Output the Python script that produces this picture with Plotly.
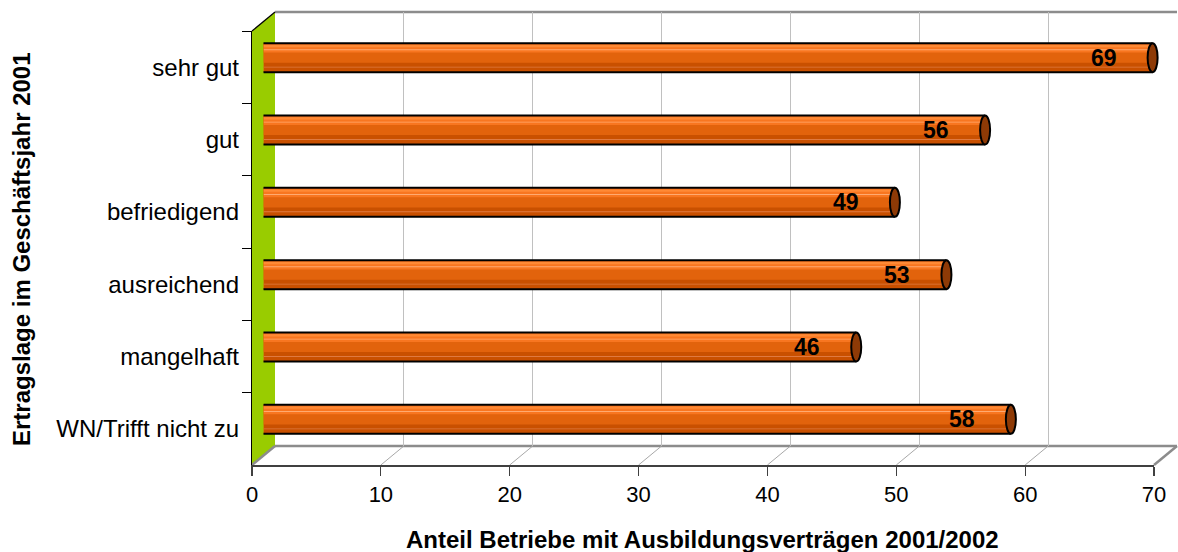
import plotly.graph_objects as go

# ---------------- data ----------------
categories = ["sehr gut", "gut", "befriedigend", "ausreichend", "mangelhaft", "WN/Trifft nicht zu"]
values = [69, 56, 49, 53, 46, 58]
x_ticks = [0, 10, 20, 30, 40, 50, 60, 70]
x_title = "Anteil Betriebe mit Ausbildungsverträgen 2001/2002"
y_title = "Ertragslage im Geschäftsjahr 2001"

# ---------------- geometry (pixels) ----------------
W, H = 1178, 552
FX0, FX1 = 252, 1154        # front plane x for 0 and 70
FYT, FYB = 31, 465          # front plane y top / bottom
DX, DY = 23, -19            # depth offset of back plane
XMAX = 70


def px(x):
    return x / W


def py(y):
    return 1 - y / H


FONT = "Arial, Liberation Sans, sans-serif"
scale = (FX1 - FX0) / XMAX  # pixels per unit

fig = go.Figure()

# back plane (grid only)
fig.add_trace(go.Scatter(x=[], y=[], xaxis="x", yaxis="y", showlegend=False, hoverinfo="skip"))

# bars on the mid plane
pos = list(range(len(categories)))
layers = [
    (-0.20, 0.40, "#C95000"),
    (-0.20, 0.27, "#E2630C"),
    (-0.20, 0.13, "#F87620"),
    (-0.175, 0.03, "#FF8A35"),
    (-0.115, 0.012, "#FFAA70"),
    (0.125, 0.012, "#E07A40"),
]
for off, wdt, col in layers:
    fig.add_trace(go.Bar(
        x=values, y=pos, orientation="h", base=0,
        offset=off, width=wdt,
        marker=dict(color=col, line=dict(width=0)),
        xaxis="x2", yaxis="y2", showlegend=False, hoverinfo="skip",
    ))

# front axes (labels / ticks)
fig.add_trace(go.Scatter(
    x=values, y=categories, mode="markers", marker=dict(opacity=0),
    xaxis="x3", yaxis="y3", showlegend=False, hoverinfo="skip",
))

shapes = []

# left wall (green)
shapes.append(dict(
    type="path", xref="paper", yref="paper", layer="below",
    path=f"M {px(FX0)},{py(FYT)} L {px(FX0+DX)},{py(FYT+DY)} L {px(FX0+DX)},{py(FYB+DY)} L {px(FX0)},{py(FYB)} Z",
    fillcolor="#99CC00", line=dict(width=0),
))
# top diagonal of wall (black)
shapes.append(dict(type="line", xref="paper", yref="paper", layer="above",
                   x0=px(FX0), y0=py(FYT), x1=px(FX0 + DX), y1=py(FYT + DY),
                   line=dict(color="#000000", width=1.2)))
# back wall top edge
shapes.append(dict(type="line", xref="paper", yref="paper", layer="below",
                   x0=px(FX0 + DX), y0=py(FYT + DY), x1=px(FX1 + DX), y1=py(FYT + DY),
                   line=dict(color="#8C8C8C", width=2.5)))
# floor back edge
shapes.append(dict(type="line", xref="paper", yref="paper", layer="below",
                   x0=px(FX0 + DX), y0=py(FYB + DY), x1=px(FX1 + DX), y1=py(FYB + DY),
                   line=dict(color="#8C8C8C", width=2.5)))
# floor diagonals
for t in x_ticks:
    xf = FX0 + t * scale
    edge = (t == x_ticks[-1]) or (t == x_ticks[0])
    shapes.append(dict(type="line", xref="paper", yref="paper", layer="below",
                       x0=px(xf), y0=py(FYB), x1=px(xf + DX), y1=py(FYB + DY),
                       line=dict(color="#8C8C8C" if edge else "#A8A8A8",
                                 width=2.5 if edge else 1)))

# cylinder outlines and caps (mid plane, data coords)
h = 0.20
ex = 5.0 / scale
for i, v in zip(pos, values):
    top, bot = i - h, i + h
    k = 4.0 / 3.0 * ex
    shapes.append(dict(type="path", xref="x2", yref="y2", layer="above",
                       path=f"M 0,{top} C {-k},{top} {-k},{bot} 0,{bot} Z",
                       fillcolor="#E2630C", line=dict(width=0)))
    shapes.append(dict(type="path", xref="x2", yref="y2", layer="above",
                       path=(f"M {v},{top} L 0,{top} C {-k},{top} {-k},{bot} 0,{bot} L {v},{bot}"),
                       fillcolor="rgba(0,0,0,0)", line=dict(color="#000000", width=2)))
    shapes.append(dict(type="circle", xref="x2", yref="y2", layer="above",
                       x0=v - ex, x1=v + ex, y0=top, y1=bot,
                       fillcolor="#8E3A06", line=dict(color="#000000", width=2)))

annotations = []
for i, v in zip(pos, values):
    annotations.append(dict(
        x=v, y=i, xref="x2", yref="y2", text=f"<b>{v}</b>", showarrow=False,
        xanchor="right", yanchor="middle", xshift=-34,
        font=dict(family=FONT, size=23, color="#000000"),
    ))
annotations.append(dict(
    x=px(702), y=py(539), xref="paper", yref="paper", text=f"<b>{x_title}</b>",
    showarrow=False, xanchor="center", yanchor="middle",
    font=dict(family=FONT, size=24, color="#000000"),
))
annotations.append(dict(
    x=px(21), y=py(249), xref="paper", yref="paper", text=f"<b>{y_title}</b>",
    showarrow=False, xanchor="center", yanchor="middle", textangle=-90,
    font=dict(family=FONT, size=24, color="#000000"),
))

fig.update_layout(
    width=W, height=H, autosize=False,
    margin=dict(l=0, r=0, t=0, b=0),
    paper_bgcolor="#FFFFFF", plot_bgcolor="rgba(0,0,0,0)",
    barmode="overlay", showlegend=False,
    shapes=shapes, annotations=annotations,
    xaxis=dict(domain=[px(FX0 + DX), px(FX1 + DX)], range=[0, XMAX], anchor="y",
               showgrid=True, gridcolor="#C0C0C0", gridwidth=1, tickvals=x_ticks,
               showticklabels=False, ticks="", zeroline=False, showline=False, fixedrange=True),
    yaxis=dict(domain=[py(FYB + DY), py(FYT + DY)], range=[0, 1], anchor="x",
               visible=False, fixedrange=True),
    xaxis2=dict(domain=[px(FX0 + DX / 2), px(FX1 + DX / 2)], range=[0, XMAX], anchor="y2",
                visible=False, fixedrange=True),
    yaxis2=dict(domain=[py(FYB + DY / 2), py(FYT + DY / 2)], range=[len(categories) - 0.5, -0.5],
                anchor="x2", visible=False, fixedrange=True),
    xaxis3=dict(domain=[px(FX0), px(FX1)], range=[0, XMAX], anchor="y3",
                tickvals=x_ticks, ticks="outside", ticklen=9, tickcolor="#404040", tickwidth=1.2,
                showline=True, linecolor="#404040", linewidth=1.5, showgrid=False, zeroline=False,
                tickfont=dict(family=FONT, size=22, color="#000000"), automargin=False,
                fixedrange=True),
    yaxis3=dict(domain=[py(FYB), py(FYT)], type="category", categoryorder="array",
                categoryarray=categories, range=[len(categories) - 0.5, -0.5], anchor="x3",
                tickson="boundaries", ticks="outside", ticklen=9, tickcolor="#000000",
                ticklabelstandoff=7,
                showline=True, linecolor="#000000", linewidth=1.2, showgrid=False,
                tickfont=dict(family=FONT, size=24, color="#000000"), automargin=False,
                fixedrange=True),
)

fig.write_html(
    "out.html",
    config={"displayModeBar": False, "staticPlot": True},
    post_script="document.body.style.margin='0px';document.body.style.overflow='hidden';",
)
